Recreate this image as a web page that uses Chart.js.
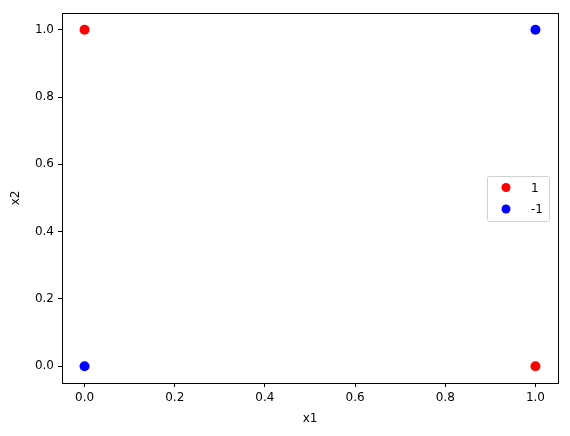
<!DOCTYPE html>
<html>
<head>
<meta charset="utf-8">
<script src="https://cdn.jsdelivr.net/npm/chart.js@4/dist/chart.umd.min.js"></script>
<style>
  html, body { margin: 0; padding: 0; background: #fff; }
  canvas { display: block; }
</style>
</head>
<body>
<canvas id="xorChart" width="570" height="436"></canvas>
<script>
// XOR points
const labels  = ['1', '-1'];
const colors  = ['#ff0000', '#0000ff'];
const posX    = [0, 1];
const posY    = [1, 0];
const negX    = [0, 1];
const negY    = [0, 1];
const xTicks  = [0, 0.2, 0.4, 0.6, 0.8, 1.0];
const yTicks  = [0, 0.2, 0.4, 0.6, 0.8, 1.0];

const FONT = { family: 'DejaVu Sans', size: 12 };

// box around the plot area
const frame = {
  id: 'frame',
  afterDraw(chart) {
    const { ctx, chartArea: a } = chart;
    ctx.save();
    ctx.strokeStyle = '#000';
    ctx.lineWidth = 1;
    ctx.strokeRect(Math.round(a.left) + 0.5, Math.round(a.top) + 0.5,
                   Math.round(a.right - a.left), Math.round(a.bottom - a.top));
    ctx.restore();
  }
};

// matplotlib-like legend at center right
const legendBox = {
  id: 'legendBox',
  afterDraw(chart) {
    const { ctx } = chart;
    const x = 487.5, y = 176.5, w = 62, h = 45;
    ctx.save();
    ctx.fillStyle = 'rgba(255,255,255,0.8)';
    ctx.strokeStyle = '#d0d0d0';
    ctx.lineWidth = 1;
    ctx.beginPath();
    ctx.roundRect(x, y, w, h, 2);
    ctx.fill();
    ctx.stroke();
    ctx.font = '12px "DejaVu Sans"';
    ctx.textBaseline = 'middle';
    chart.data.datasets.forEach((ds, i) => {
      const cy = y + 11 + i * 21.5;
      ctx.fillStyle = ds.backgroundColor;
      ctx.beginPath();
      ctx.arc(506, cy, 4.5, 0, Math.PI * 2);
      ctx.fill();
      ctx.fillStyle = '#000';
      ctx.fillText(ds.label, 531, cy + 1);
    });
    ctx.restore();
  }
};

const toPts = (xs, ys) => xs.map((x, i) => ({ x, y: ys[i] }));

new Chart(document.getElementById('xorChart'), {
  type: 'scatter',
  data: {
    datasets: [
      { label: labels[0], data: toPts(posX, posY), backgroundColor: colors[0], borderWidth: 0, pointRadius: 5 },
      { label: labels[1], data: toPts(negX, negY), backgroundColor: colors[1], borderWidth: 0, pointRadius: 5 }
    ]
  },
  options: {
    responsive: false,
    animation: false,
    layout: { padding: { left: 0, top: 13, right: 12, bottom: 0 } },
    plugins: { legend: { display: false }, tooltip: { enabled: false } },
    scales: {
      x: {
        type: 'linear',
        min: -0.05, max: 1.05,
        afterBuildTicks: s => { s.ticks = xTicks.map(v => ({ value: v })); },
        afterFit: s => { s.height = 53; },
        grid: { display: true, drawOnChartArea: false, tickLength: 4, color: '#000' },
        border: { display: true, color: '#000' },
        ticks: { color: '#000', font: FONT, padding: 4, maxRotation: 0, callback: v => v.toFixed(1) },
        title: { display: true, text: 'x1', color: '#000', font: FONT, padding: { top: 0, bottom: 10 } }
      },
      y: {
        type: 'linear',
        min: -0.05, max: 1.05,
        afterBuildTicks: s => { s.ticks = yTicks.map(v => ({ value: v })); },
        afterFit: s => { s.width = 62; },
        grid: { display: true, drawOnChartArea: false, tickLength: 4, color: '#000' },
        border: { display: true, color: '#000' },
        ticks: { color: '#000', font: FONT, padding: 4, callback: v => v.toFixed(1) },
        title: { display: true, text: 'x2', color: '#000', font: FONT, padding: { top: 9, bottom: 0 } }
      }
    }
  },
  plugins: [frame, legendBox]
});
</script>
</body>
</html>
